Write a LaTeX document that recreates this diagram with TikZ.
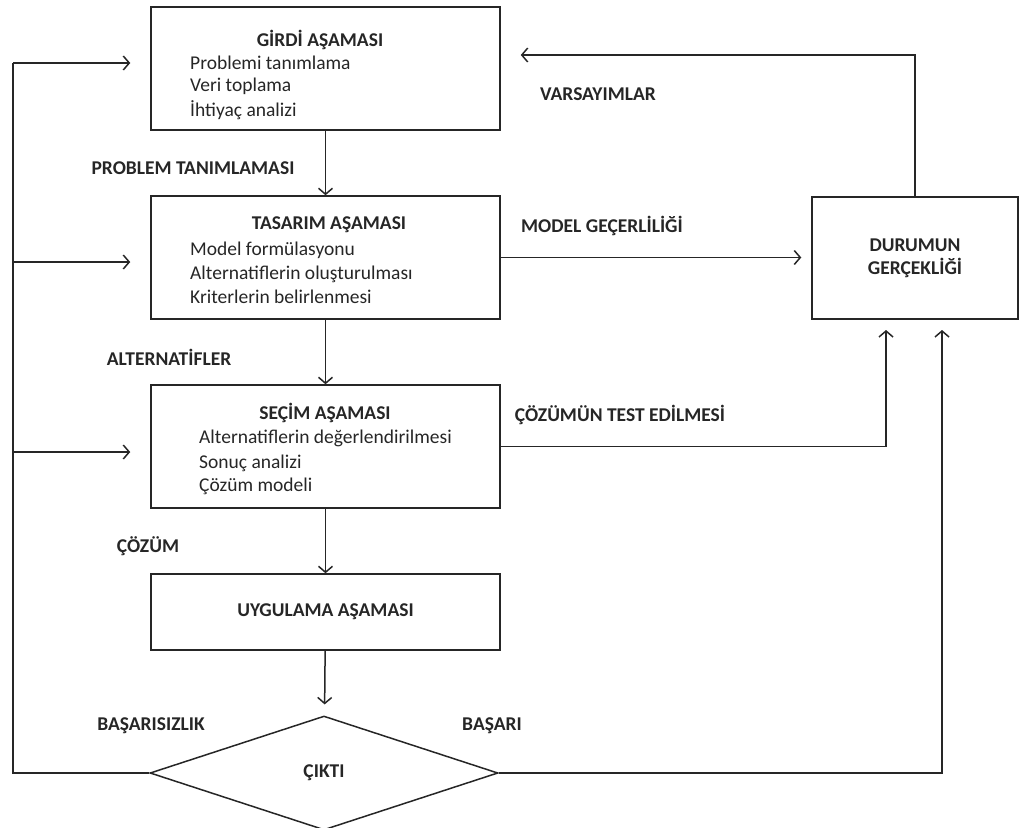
\documentclass[tikz,border=0pt]{standalone}
\usepackage{fontspec}
\setmainfont{Carlito}
\usetikzlibrary{arrows.meta,shapes.geometric}
\begin{document}
\begin{tikzpicture}[x=1pt,y=-1pt,
  every node/.style={font=\fontsize{19.5pt}{23pt}\selectfont, text=black!85},
  box/.style={draw=black!85, line width=1.5pt, inner sep=0pt, minimum width=349pt},
  ttl/.style={font=\fontsize{19.5pt}{23pt}\selectfont\bfseries, inner sep=0pt},
  item/.style={anchor=west, inner sep=0pt},
  lbl/.style={font=\fontsize{19.5pt}{23pt}\selectfont\bfseries, inner sep=0pt},
  line/.style={draw=black!85, line width=1.5pt},
  arr/.style={line, -{Straight Barb[length=6pt,width=14pt,line width=1.5pt]}}]
\useasboundingbox (0,0) rectangle (1025,827);
% boxes
\node[box, minimum height=123pt] (girdi) at (325.5,68.5) {};
\node[box, minimum height=123pt] (tasarim) at (325.5,257.5) {};
\node[box, minimum height=123pt] (secim) at (325.5,446.5) {};
\node[box, minimum height=76pt, font=\fontsize{19.5pt}{23pt}\selectfont\bfseries] (uyg) at (325.5,612) {UYGULAMA AŞAMASI};
\node[draw=black!85, line width=1.5pt, diamond, minimum width=348pt, minimum height=114pt, inner sep=0pt, font=\fontsize{19.5pt}{23pt}\selectfont\bfseries] (cikti) at (324,773) {ÇIKTI};
\node[draw=black!85, line width=1.5pt, minimum width=206pt, minimum height=122pt, inner sep=0pt, align=center, font=\fontsize{19.5pt}{23pt}\selectfont\bfseries] (durum) at (915,258) {DURUMUN\\GERÇEKLİĞİ};
% box texts
\node[ttl] (girdiT) at (320,40) {GİRDİ AŞAMASI};
\node[item] (g1) at (190,63) {Problemi tanımlama};
\node[item] (g2) at (190,86) {Veri toplama};
\node[item] (g3) at (190,110) {İhtiyaç analizi};
\node[ttl] (tasT) at (329,225) {TASARIM AŞAMASI};
\node[item] (t1) at (190,250) {Model formülasyonu};
\node[item] (t2) at (190,274) {Alternatiflerin oluşturulması};
\node[item] (t3) at (190,297) {Kriterlerin belirlenmesi};
\node[ttl] (secT) at (325,413) {SEÇİM AŞAMASI};
\node[item] (s1) at (199,438) {Alternatiflerin değerlendirilmesi};
\node[item] (s2) at (199,463) {Sonuç analizi};
\node[item] (s3) at (199,486) {Çözüm modeli};
% labels
\node[lbl] (lp) at (193,168) {PROBLEM TANIMLAMASI};
\node[lbl] (la) at (169,357) {ALTERNATİFLER};
\node[lbl] (lc) at (148,546) {ÇÖZÜM};
\node[lbl] (lb) at (151,726) {BAŞARISIZLIK};
\node[lbl] (ls) at (492,726) {BAŞARI};
\node[lbl] (lv) at (598,94) {VARSAYIMLAR};
\node[lbl] (lm) at (602,226) {MODEL GEÇERLİLİĞİ};
\node[lbl] (lt) at (620,415) {ÇÖZÜMÜN TEST EDİLMESİ};
% coordinates
\coordinate (L0) at (13,773);
\coordinate (L1) at (13,63);
\coordinate (L2) at (13,262);
\coordinate (L3) at (13,452);
\coordinate (V) at (915,55);
\coordinate (tx) at (886,319);
\coordinate (sx) at (942,319);
% main flow
\draw[arr] (girdi) -- (tasarim);
\draw[arr] (tasarim) -- (secim);
\draw[arr] (secim) -- (uyg);
\draw[arr, shorten >=11pt] (uyg) -- (cikti);
% left feedback
\draw[line] (cikti.west) -- (L0) -- (L1);
\draw[arr, shorten >=20pt] (L1) -- (L1 -| girdi.west);
\draw[arr, shorten >=20pt] (L2) -- (L2 -| tasarim.west);
\draw[arr, shorten >=20pt] (L3) -- (L3 -| secim.west);
% right side
\draw[arr, shorten >=20pt] (durum.north) -- (V) -- (V -| girdi.east);
\draw[arr, shorten >=10pt] (tasarim.east) -- (tasarim.east -| durum.west);
\draw[arr, shorten >=11pt] (secim.east) -| (tx);
\draw[arr, shorten >=11pt] (cikti.east) -| (sx);
\end{tikzpicture}
\end{document}
